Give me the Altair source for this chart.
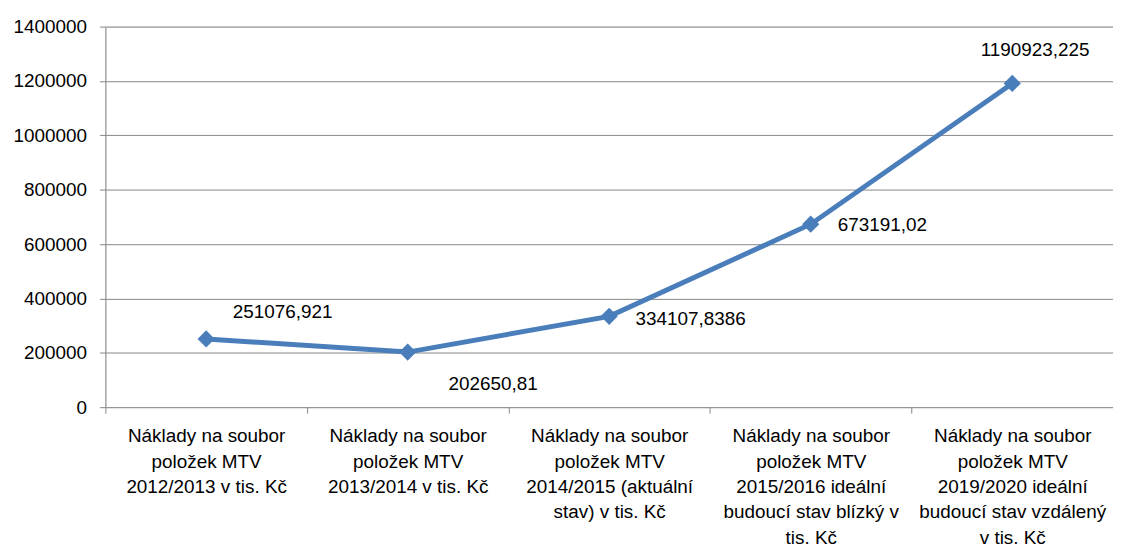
import altair as alt
import pandas as pd

categories = [
    "Náklady na soubor|položek MTV|2012/2013 v tis. Kč",
    "Náklady na soubor|položek MTV|2013/2014 v tis. Kč",
    "Náklady na soubor|položek MTV|2014/2015 (aktuální|stav) v tis. Kč",
    "Náklady na soubor|položek MTV|2015/2016 ideální|budoucí stav blízký v|tis. Kč",
    "Náklady na soubor|položek MTV|2019/2020 ideální|budoucí stav vzdálený|v tis. Kč",
]
values = [251076.921, 202650.81, 334107.8386, 673191.02, 1190923.225]
value_labels = ["251076,921", "202650,81", "334107,8386", "673191,02", "1190923,225"]
y_ticks = [0, 200000, 400000, 600000, 800000, 1000000, 1200000, 1400000]

df = pd.DataFrame({"cat": categories, "val": values, "lab": value_labels})

FONT = "Liberation Sans"
BLUE = "#4A7EBB"
GRID = "#868686"

x_enc = alt.X(
    "cat:N",
    sort=categories,
    scale=alt.Scale(type="band", paddingInner=0, paddingOuter=0),
    axis=alt.Axis(
        title=None,
        labelAngle=0,
        labelExpr="isString(datum.value) ? split(datum.value, '|') : ''",
        labelFont=FONT,
        labelFontSize=19,
        labelLineHeight=25.5,
        labelColor="#000000",
        labelPadding=14,
        labelBaseline="top",
        labelLimit=0,
        labelOverlap=False,
        labelBound=False,
        tickBand="extent",
        tickColor=GRID,
        tickSize=6,
        domain=False,
        grid=False,
    ),
)
y_enc = alt.Y(
    "val:Q",
    scale=alt.Scale(domain=[0, 1400000], nice=False, zero=True),
    axis=alt.Axis(
        title=None,
        values=y_ticks,
        format="d",
        labelFont=FONT,
        labelFontSize=19,
        labelColor="#000000",
        labelPadding=13,
        tickColor=GRID,
        tickSize=6,
        domainColor=GRID,
        gridColor=GRID,
        gridWidth=1,
    ),
)

base = alt.Chart(df)
line = base.mark_line(color=BLUE, strokeWidth=5).encode(x=x_enc, y=y_enc)
pts = base.mark_point(shape="diamond", filled=True, size=300, color=BLUE, opacity=1).encode(
    x=alt.X("cat:N", sort=categories), y="val:Q"
)

offsets = [(77, -27), (86, 32), (82, 3), (72, 1), (23, -34)]
text_layers = []
for lab, (dx, dy) in zip(value_labels, offsets):
    text_layers.append(
        base.transform_filter(alt.datum.lab == lab)
        .mark_text(font=FONT, fontSize=19, color="#000000", dx=dx, dy=dy, align="center", baseline="middle")
        .encode(x=alt.X("cat:N", sort=categories), y="val:Q", text="lab:N")
    )

chart = (
    alt.layer(line, pts, *text_layers)
    .properties(
        width=1014,
        height=383,
        autosize=alt.AutoSizeParams(type="none"),
        padding={"left": 98, "top": 17, "right": 0, "bottom": 141},
    )
    .configure_view(stroke=None)
    .configure(background="white")
)

chart.save("out.html", embed_options={"renderer": "svg", "actions": False})
